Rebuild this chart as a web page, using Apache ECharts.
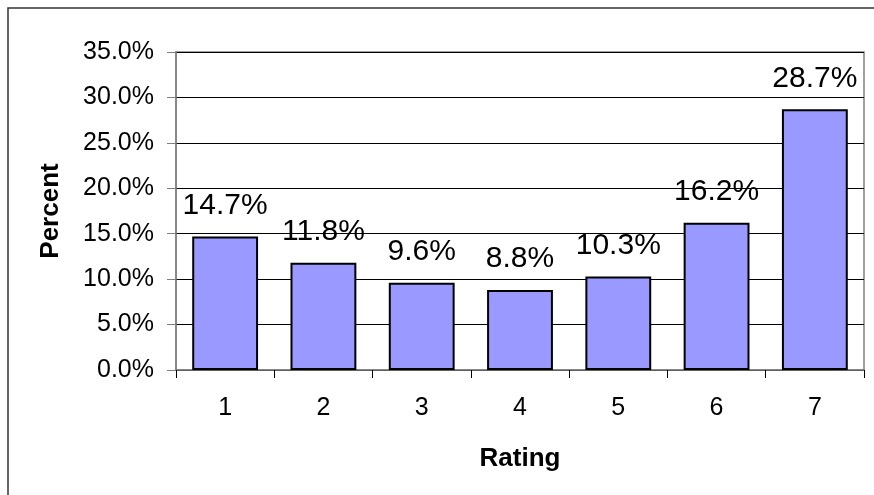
<!DOCTYPE html>
<html>
<head>
<meta charset="utf-8">
<script src="https://cdn.jsdelivr.net/npm/echarts@6/dist/echarts.min.js"></script>
<style>html,body{margin:0;padding:0;background:#fff}#c{width:874px;height:495px}</style>
</head>
<body>
<div id="c"></div>
<script>
var categories = ['1','2','3','4','5','6','7'];
var percents = [14.7, 11.8, 9.6, 8.8, 10.3, 16.2, 28.7];
var yTicks = {min: 0, max: 35, interval: 5};

var chart = echarts.init(document.getElementById('c'), null, {renderer: 'canvas'});
var font = 'Liberation Sans, Arial, sans-serif';
chart.setOption({
  animation: false,
  backgroundColor: '#fff',
  graphic: [{
    type: 'polyline',
    shape: {points: [[8, 500], [8, 8], [880, 8]]},
    style: {stroke: '#333', lineWidth: 1.5, fill: null},
    silent: true
  }],
  grid: {left: 176, right: 10, top: 52, bottom: 125, show: true, borderColor: '#808080', borderWidth: 1.5, backgroundColor: 'transparent'},
  xAxis: {
    type: 'category',
    data: categories,
    name: 'Rating',
    nameLocation: 'middle',
    nameGap: 76,
    nameTextStyle: {fontFamily: font, fontSize: 26, fontWeight: 'bold', color: '#000'},
    axisLine: {lineStyle: {color: '#808080', width: 1.5}},
    axisTick: {show: true, length: 8, lineStyle: {color: '#000'}},
    axisLabel: {fontFamily: font, fontSize: 25, color: '#000', margin: 26}
  },
  yAxis: {
    type: 'value',
    min: yTicks.min, max: yTicks.max, interval: yTicks.interval,
    name: 'Percent',
    nameLocation: 'middle',
    nameGap: 112,
    nameRotate: 90,
    nameTextStyle: {fontFamily: font, fontSize: 26, fontWeight: 'bold', color: '#000'},
    axisLine: {show: true, lineStyle: {color: '#808080', width: 1.5}},
    axisTick: {show: true, length: 9, lineStyle: {color: '#808080'}},
    axisLabel: {fontFamily: font, fontSize: 25, color: '#000', margin: 22,
      formatter: function (v) { return v.toFixed(1) + '%'; }},
    splitLine: {show: true, lineStyle: {color: '#000', width: 1}}
  },
  series: [{
    type: 'bar',
    data: percents,
    barCategoryGap: '33%',
    itemStyle: {color: '#9999FF', borderColor: '#000', borderWidth: 2},
    label: {
      show: true, position: 'top', distance: 16,
      fontFamily: font, fontSize: 30, color: '#000',
      formatter: function (p) { return p.value.toFixed(1) + '%'; }
    }
  }]
});
</script>
</body>
</html>
